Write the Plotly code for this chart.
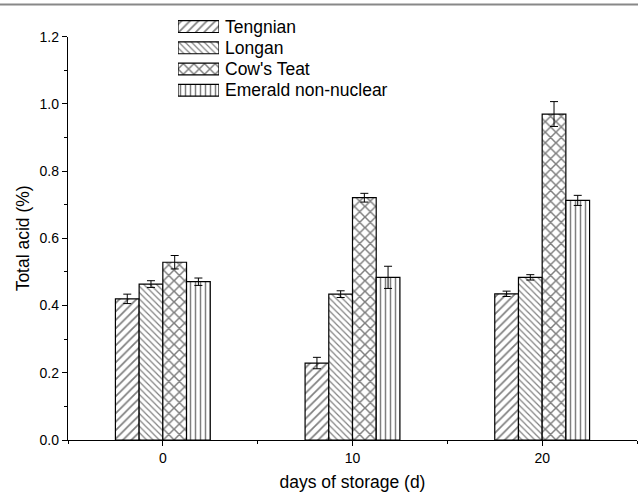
import plotly.graph_objects as go

days = [0, 10, 20]
series = ["Tengnian", "Longan", "Cow's Teat", "Emerald non-nuclear"]
tengnian = [0.420, 0.229, 0.435]
tengnian_err = [0.014, 0.017, 0.008]
longan = [0.464, 0.434, 0.484]
longan_err = [0.010, 0.010, 0.008]
cows_teat = [0.529, 0.721, 0.970]
cows_teat_err = [0.020, 0.013, 0.037]
emerald = [0.471, 0.484, 0.713]
emerald_err = [0.011, 0.033, 0.015]
y_ticks = [0.0, 0.2, 0.4, 0.6, 0.8, 1.0, 1.2]
x_ticks = [0, 10, 20]

values = [tengnian, longan, cows_teat, emerald]
errors = [tengnian_err, longan_err, cows_teat_err, emerald_err]
patterns = [
    dict(shape="/", size=6, solidity=0.28),
    dict(shape="\\", size=4.5, solidity=0.26),
    dict(shape="x", size=7.5, solidity=0.36),
    dict(shape="|", size=5, solidity=0.3),
]

FONT = "Liberation Sans, Arial, sans-serif"
W, H = 638, 495
ML, MR, MT, MB = 68, 1, 5, 55
plot_top = 33  # pixel of y=1.2
plot_h = H - MT - MB
main_top = (H - MB - plot_top) / plot_h

fig = go.Figure()
for name, v, e, p in zip(series, values, errors, patterns):
    fig.add_trace(go.Bar(
        x=days, y=v, name=name, showlegend=False,
        marker=dict(color="white", line=dict(color="black", width=1.2),
                    pattern=dict(fgcolor="black", bgcolor="white", **p)),
        error_y=dict(type="data", array=e, color="black", thickness=1, width=4),
        xaxis="x", yaxis="y",
    ))

# custom legend swatches on an auxiliary axis pair
leg_rows = list(range(len(series)))
for i, (name, p) in enumerate(zip(series, patterns)):
    fig.add_trace(go.Bar(
        x=[1], y=[leg_rows[i]], orientation="h", showlegend=False,
        offsetgroup="leg", alignmentgroup="leg", width=0.56,
        marker=dict(color="white", line=dict(color="black", width=1.2),
                    pattern=dict(fgcolor="black", bgcolor="white", **p)),
        xaxis="x2", yaxis="y2", hoverinfo="skip",
    ))
    fig.add_annotation(x=1, y=leg_rows[i], xref="x2", yref="y2", text=name,
                       showarrow=False, xanchor="left", yanchor="middle",
                       xshift=4, font=dict(family=FONT, size=17.5, color="black"))

pw = W - ML - MR
lx0 = (178 - ML) / pw
lx1 = (219 - ML) / pw
ly_top = (H - MB - 12) / plot_h
ly_bot = (H - MB - 97.7) / plot_h

fig.update_layout(
    width=W, height=H,
    margin=dict(l=ML, r=MR, t=MT, b=MB),
    paper_bgcolor="white", plot_bgcolor="rgba(0,0,0,0)",
    barmode="group", bargap=0.5, bargroupgap=0,
    font=dict(family=FONT, size=14, color="black"),
    xaxis=dict(
        range=[-5, 25], tickvals=x_ticks, ticktext=[str(t) for t in x_ticks],
        showline=True, linecolor="black", linewidth=1.3, mirror=False,
        ticks="outside", ticklen=5, tickwidth=1.3, tickcolor="black",
        minor=dict(dtick=5, ticks="outside", ticklen=3, tickwidth=1.3, tickcolor="black"),
        showgrid=False, zeroline=False,
        title=dict(text="days of storage (d)", font=dict(family=FONT, size=17.5), standoff=10),
        tickfont=dict(family=FONT, size=14),
    ),
    yaxis=dict(
        domain=[0, main_top],
        range=[0, 1.2], tickvals=y_ticks, tickformat=".1f",
        showline=True, linecolor="black", linewidth=1.3,
        ticks="outside", ticklen=5, tickwidth=1.3, tickcolor="black",
        minor=dict(dtick=0.1, ticks="outside", ticklen=3, tickwidth=1.3, tickcolor="black"),
        showgrid=False, zeroline=False,
        title=dict(text="Total acid (%)", font=dict(family=FONT, size=17.5), standoff=5),
        tickfont=dict(family=FONT, size=14),
    ),
    xaxis2=dict(domain=[lx0, lx1], range=[0, 1], anchor="y2", visible=False, fixedrange=True),
    yaxis2=dict(domain=[ly_bot, ly_top], range=[len(series) - 0.5, -0.5], anchor="x2",
                visible=False, fixedrange=True),
    shapes=[dict(type="line", xref="paper", yref="paper",
                 x0=-ML / pw, x1=(W - ML) / pw,
                 y0=(H - MB - 0.5) / plot_h, y1=(H - MB - 0.5) / plot_h,
                 line=dict(color="#888888", width=2))],
)

fig.write_html("out.html")
